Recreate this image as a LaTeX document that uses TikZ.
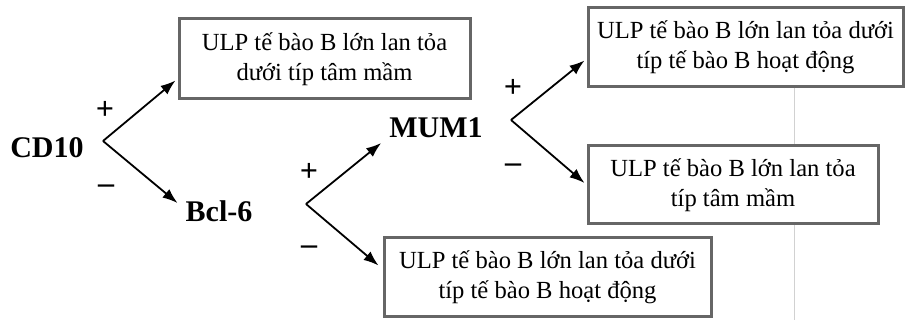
\documentclass[tikz,border=0pt]{standalone}
\usepackage{fontspec}
\setmainfont{Liberation Serif}
\usetikzlibrary{arrows.meta,calc}
\begin{document}
\begin{tikzpicture}[x=1pt,y=-1pt,
  resbox/.style={draw=black!60, line width=3pt, fill=white, align=center,
    inner sep=0pt, font=\fontsize{24.6}{30}\selectfont},
  marker/.style={font=\fontsize{30}{30}\bfseries\selectfont, inner sep=0pt},
  sign/.style={font=\fontsize{32}{32}\bfseries\selectfont, inner sep=0pt},
  branch/.style={line width=1.8pt, -{Latex[length=15pt,width=11pt]}},
  guide/.style={draw=black!18, line width=0.8pt}
]
\useasboundingbox (0,0) rectangle (905,320);

% result boxes
\node[resbox, minimum width=291pt, minimum height=80pt] (b1) at (324.5,59)
  {ULP tế bào B lớn lan tỏa\\dưới típ tâm mầm};
\node[resbox, minimum width=315pt, minimum height=79pt] (b2) at (745.5,47.5)
  {ULP tế bào B lớn lan tỏa dưới\\típ tế bào B hoạt động};

% faint vertical rule behind the right-hand boxes
\coordinate (g1) at (794,88);
\coordinate (g2) at (794,320);
\draw[guide] (g1) -- (g2);

\node[resbox, minimum width=290pt, minimum height=78pt] (b3) at (733,185)
  {ULP tế bào B lớn lan tỏa\\típ tâm mầm};
\node[resbox, minimum width=327pt, minimum height=79pt] (b4) at (547.5,277.5)
  {ULP tế bào B lớn lan tỏa dưới\\típ tế bào B hoạt động};

% markers
\node[marker] (cd) at (47,148) {CD10};
\node[marker] (bcl) at (219,211) {Bcl-6};
\node[marker] (mum) at (436,128) {MUM1};

% branching points
\coordinate (v1) at (103,141);
\coordinate (v2) at (306,204);
\coordinate (v3) at (511,120);

% branches
\draw[branch] (v1) -- ($(b1.south west)+(-2,-20)$);
\draw[branch] (v1) -- ($(bcl.west)+(-8,-8)$);
\draw[branch] (v2) -- ($(mum.west)+(-8,15)$);
\draw[branch] (v2) -- ($(b4.north west)+(-4,29)$);
\draw[branch] (v3) -- ($(b2.south west)+(-2,-28)$);
\draw[branch] (v3) -- ($(b3.west)+(-2,-2)$);

% signs
\node[sign] (p1) at (105,110) {+};
\node[sign] (m1) at (106,189) {–};
\node[sign] (p2) at (309,172) {+};
\node[sign] (m2) at (309,250) {–};
\node[sign] (p3) at (513,88) {+};
\node[sign] (m3) at (513,168) {–};
\end{tikzpicture}
\end{document}
